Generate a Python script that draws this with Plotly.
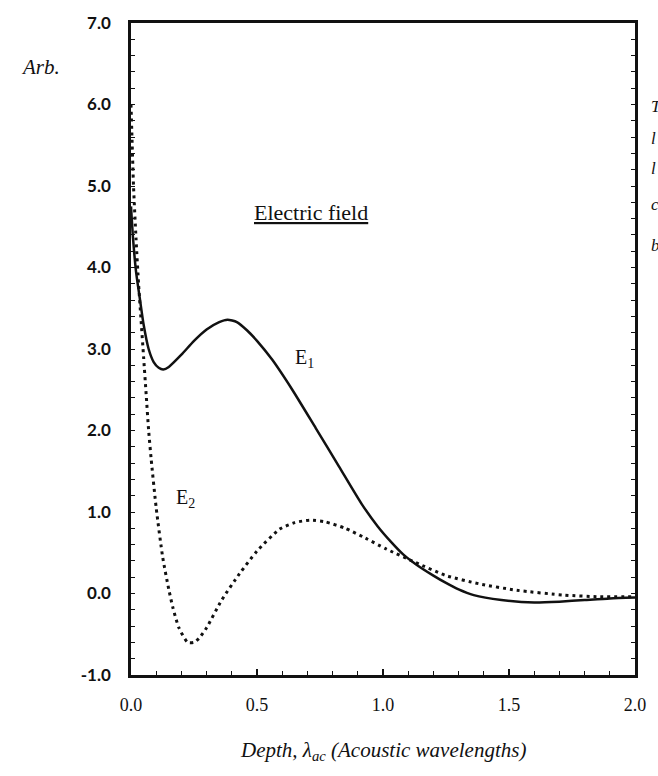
import plotly.graph_objects as go

# E1 (solid) readings
e1_x = [0.0, 0.008, 0.02, 0.035, 0.05, 0.07, 0.09, 0.11, 0.128, 0.15, 0.2, 0.25, 0.3, 0.35,
        0.383, 0.42, 0.46, 0.5, 0.56, 0.64, 0.733, 0.825, 0.915, 0.98, 1.03, 1.08, 1.13,
        1.2, 1.25, 1.3, 1.36, 1.47, 1.6, 1.7, 1.8, 1.9, 2.0]
e1_y = [4.75, 4.36, 3.95, 3.62, 3.3, 3.0, 2.84, 2.77, 2.75, 2.78, 2.93, 3.1, 3.24, 3.33,
        3.36, 3.33, 3.23, 3.1, 2.87, 2.5, 2.03, 1.56, 1.1, 0.82, 0.64, 0.48, 0.36,
        0.22, 0.13, 0.05, -0.02, -0.08, -0.11, -0.1, -0.08, -0.06, -0.05]

# E2 (dotted) readings
e2_x = [0.0, 0.01, 0.02, 0.03, 0.04, 0.05, 0.06, 0.07, 0.08, 0.1, 0.126, 0.15, 0.166, 0.19,
        0.225, 0.25, 0.27, 0.3, 0.36, 0.43, 0.5, 0.59, 0.65, 0.71, 0.77, 0.85, 0.93, 1.01,
        1.13, 1.25, 1.38, 1.53, 1.72, 1.86, 2.0]
e2_y = [6.0, 5.0, 4.35, 3.8, 3.35, 2.9, 2.45, 2.0, 1.65, 1.05, 0.44, 0.05, -0.17, -0.42,
        -0.6, -0.6, -0.55, -0.42, -0.08, 0.24, 0.52, 0.79, 0.87, 0.9, 0.88, 0.8, 0.68, 0.55,
        0.38, 0.22, 0.12, 0.04, -0.02, -0.04, -0.04]

x_ticks = [0.0, 0.5, 1.0, 1.5, 2.0]
x_tick_labels = ["0.0", "0.5", "1.0", "1.5", "2.0"]
y_ticks = [-1, 0, 1, 2, 3, 4, 5, 6, 7]
y_tick_labels = ["-1.0", "0.0", "1.0", "2.0", "3.0", "4.0", "5.0", "6.0", "7.0"]

INK = "#111111"
SERIF = "Liberation Serif"

fig = go.Figure()
fig.add_trace(go.Scatter(x=e2_x, y=e2_y, mode="lines",
                         line=dict(color=INK, width=3, dash="3px,4px", shape="spline", smoothing=0.6),
                         showlegend=False, hoverinfo="skip"))
fig.add_trace(go.Scatter(x=e1_x, y=e1_y, mode="lines",
                         line=dict(color=INK, width=2.5, shape="spline", smoothing=0.6),
                         showlegend=False, hoverinfo="skip"))

fig.update_layout(
    width=658, height=776,
    margin=dict(l=131, r=19, t=15, b=101),
    paper_bgcolor="white", plot_bgcolor="white",
    xaxis=dict(range=[0, 2.0], tickvals=x_ticks, ticktext=x_tick_labels,
               ticks="inside", ticklen=6, tickwidth=1.5, tickcolor=INK,
               minor=dict(dtick=0.1, ticks="inside", ticklen=4, tickwidth=1, tickcolor=INK),
               showline=True, linewidth=2.5, linecolor=INK, mirror=True,
               showgrid=False, zeroline=False,
               tickfont=dict(family=SERIF, size=18, color=INK), ticklabelstandoff=12),
    yaxis=dict(range=[-1, 7.0], tickvals=y_ticks, ticktext=y_tick_labels,
               ticks="inside", ticklen=4, tickwidth=1.2, tickcolor=INK,
               minor=dict(dtick=0.2, ticks="inside", ticklen=4, tickwidth=1, tickcolor=INK),
               showline=True, linewidth=2.5, linecolor=INK, mirror="ticks",
               showgrid=False, zeroline=False,
               tickfont=dict(family="Lato", size=17, color=INK, weight="bold"), ticklabelstandoff=14),
)

annotations = [
    dict(text="<i>Arb.</i>", xref="paper", yref="paper", x=-0.179, y=0.932,
         font=dict(family=SERIF, size=21, color=INK)),
    dict(text="<i>Depth, λ<sub>ac</sub> (Acoustic wavelengths)</i>", xref="paper", yref="paper",
         x=0.5, y=-0.117, font=dict(family=SERIF, size=21, color=INK)),
    dict(text="<u>Electric field</u>", xref="x", yref="y", x=0.713, y=4.68,
         font=dict(family=SERIF, size=22, color=INK)),
    dict(text="E<sub>1</sub>", xref="x", yref="y", x=0.69, y=2.88,
         font=dict(family=SERIF, size=20, color=INK)),
    dict(text="E<sub>2</sub>", xref="x", yref="y", x=0.215, y=1.16,
         font=dict(family=SERIF, size=20, color=INK)),
]
for a in annotations:
    a.update(showarrow=False, xanchor="center", yanchor="middle")
    fig.add_annotation(**a)

# clipped fragments of neighbouring page text at the right edge
for ypx, ch in [(100, "T"), (132, "l"), (162, "l"), (199, "c"), (240, "b")]:
    fig.add_annotation(text="<i>" + ch + "</i>", xref="paper", yref="paper",
                       x=(653 - 131) / 508, y=(675 - ypx) / 660, showarrow=False,
                       xanchor="left", yanchor="middle",
                       font=dict(family=SERIF, size=17, color=INK))

fig.write_html("out.html")
